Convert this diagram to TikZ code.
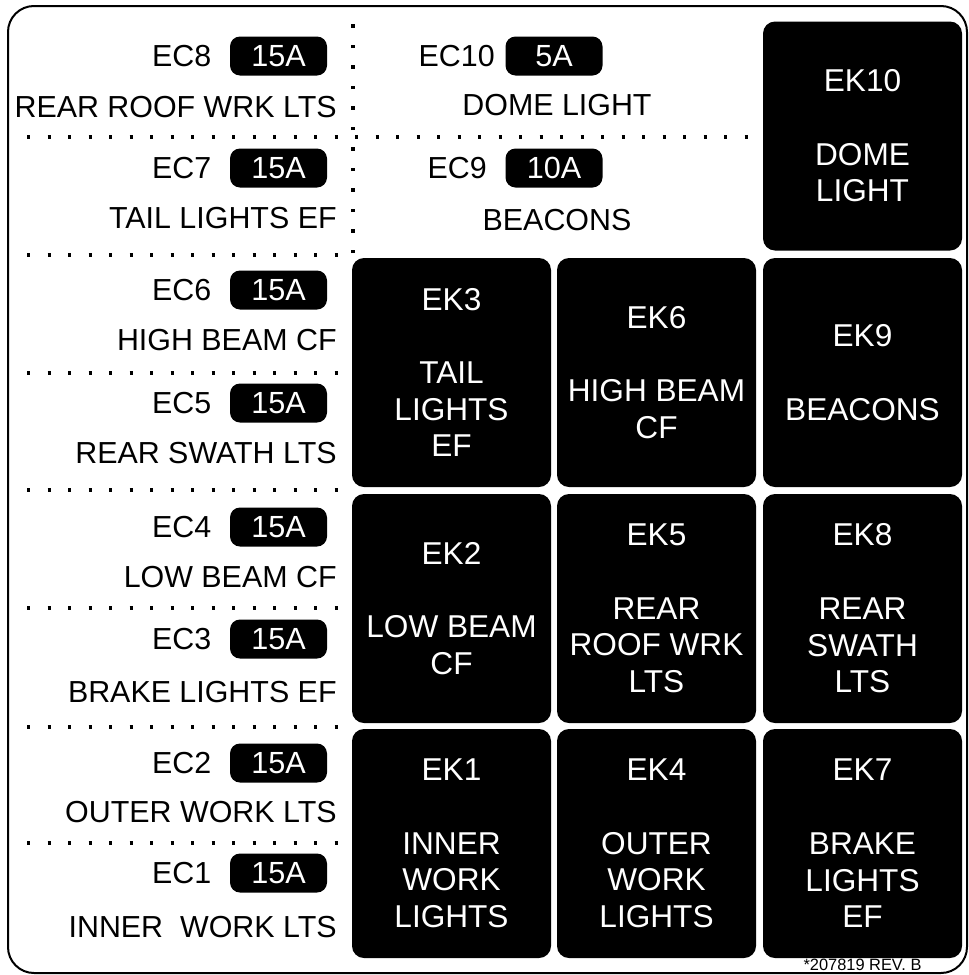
\documentclass[tikz,border=0pt]{standalone}
\usepackage{fontspec}
\setmainfont{Liberation Sans}
\usetikzlibrary{positioning}
\tikzset{
  frameline/.style={draw=black,line width=1pt,rounded corners=13pt},
  dotline/.style={draw=black,line width=1.7pt,dash pattern=on 1.7pt off 8.55pt},
  tagfont/.style={font=\fontsize{15.2}{18}\selectfont,inner sep=0pt},
  ratebox/.style={fill=black,text=white,rounded corners=5pt,minimum width=48.5pt,
    minimum height=19.5pt,inner sep=0pt,font=\fontsize{15.3}{18}\selectfont},
  relaybox/.style={fill=black,text=white,rounded corners=6pt,minimum width=99.5pt,
    minimum height=114.5pt,inner sep=0pt,align=center,font=\fontsize{15.8}{18.35}\selectfont},
  revfont/.style={font=\fontsize{8.2}{9}\selectfont,inner sep=0pt},
}
\newcommand{\lfuse}[6]{%
  \node[ratebox] (#1) at (#2,#3) {#5};
  \node[tagfont,left=#6 of #1] (#1t) {#4};}
\newcommand{\ldesc}[3]{\node[tagfont,anchor=east] (#1) at (337,#2) {#3};}
\newcommand{\lrelay}[4]{\node[relaybox] (#1) at (#2,#3) {#4};}

\begin{document}
\begin{tikzpicture}[x=0.5pt,y=-0.5pt]
  \useasboundingbox (0,0) rectangle (969,975);
  \draw[frameline] (8,6) rectangle (967,973);
  % dotted separators
  \draw[dotline] (27,137) -- (763,137);
  \draw[dotline] (27,255) -- (353,255) -- (353,22);
  \foreach \y in {373,490,608,727,843}
    \draw[dotline] (27,\y) -- (351,\y);
  % fuses, left column
  \lfuse{ec8}{278.5}{56}{EC8}{15A}{9pt}\ldesc{ec8d}{107}{REAR ROOF WRK LTS}
  \lfuse{ec7}{278.5}{168}{EC7}{15A}{9pt}\ldesc{ec7d}{218}{TAIL LIGHTS EF}
  \lfuse{ec6}{278.5}{290}{EC6}{15A}{9pt}\ldesc{ec6d}{340}{HIGH BEAM CF}
  \lfuse{ec5}{278.5}{403}{EC5}{15A}{9pt}\ldesc{ec5d}{453}{REAR SWATH LTS}
  \lfuse{ec4}{278.5}{527}{EC4}{15A}{9pt}\ldesc{ec4d}{577}{LOW BEAM CF}
  \lfuse{ec3}{278.5}{639}{EC3}{15A}{9pt}\ldesc{ec3d}{692}{BRAKE LIGHTS EF}
  \lfuse{ec2}{278.5}{763}{EC2}{15A}{9pt}\ldesc{ec2d}{812}{OUTER WORK LTS}
  \lfuse{ec1}{278.5}{873}{EC1}{15A}{9pt}\ldesc{ec1d}{927}{INNER\ \ WORK LTS}
  % fuses, top middle
  \lfuse{ec10}{554}{56}{EC10}{5A}{5pt}
  \node[tagfont] (ec10d) at (557,105) {DOME LIGHT};
  \lfuse{ec9}{554}{168}{EC9}{10A}{9pt}
  \node[tagfont] (ec9d) at (557,220) {BEACONS};
  % relays
  \lrelay{ek10}{862.5}{136}{EK10\\~\\DOME\\LIGHT}
  \lrelay{ek3}{451.5}{372.5}{EK3\\~\\TAIL\\LIGHTS\\EF}
  \lrelay{ek6}{656.5}{372.5}{EK6\\~\\HIGH BEAM\\CF}
  \lrelay{ek9}{862.5}{372.5}{EK9\\~\\BEACONS}
  \lrelay{ek2}{451.5}{608.5}{EK2\\~\\LOW BEAM\\CF}
  \lrelay{ek5}{656.5}{608.5}{EK5\\~\\REAR\\ROOF WRK\\LTS}
  \lrelay{ek8}{862.5}{608.5}{EK8\\~\\REAR\\SWATH\\LTS}
  \lrelay{ek1}{451.5}{843.5}{EK1\\~\\INNER\\WORK\\LIGHTS}
  \lrelay{ek4}{656.5}{843.5}{EK4\\~\\OUTER\\WORK\\LIGHTS}
  \lrelay{ek7}{862.5}{843.5}{EK7\\~\\BRAKE\\LIGHTS\\EF}
  \node[revfont] (rev) at (862.5,965) {*207819 REV. B};
\end{tikzpicture}
\end{document}
